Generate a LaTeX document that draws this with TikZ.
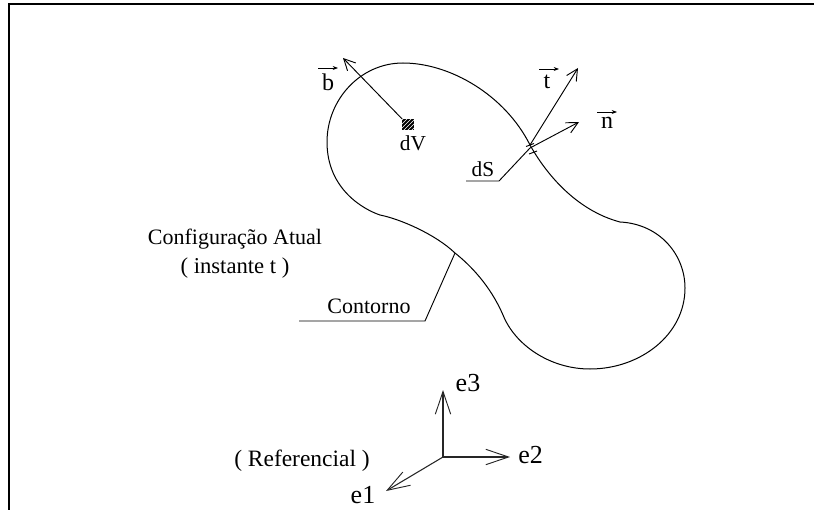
\documentclass[tikz,border=0pt]{standalone}
\usepackage{fontspec}
\setmainfont{Liberation Serif}
\usetikzlibrary{arrows.meta,patterns}
\tikzset{
  lbl/.style={anchor=base,inner sep=0pt,font=\fontsize{16.5}{18}\selectfont},
  biglbl/.style={anchor=base,inner sep=0pt,font=\fontsize{19.5}{22}\selectfont},
  veclbl/.style={anchor=base,inner sep=0pt,font=\fontsize{18}{20}\selectfont},
  smalllbl/.style={anchor=base,inner sep=0pt,font=\fontsize{16}{18}\selectfont},
  thin line/.style={line width=0.7pt,black},
  vec/.style={thin line,-{Straight Barb[length=8.5pt,width=8.5pt,line width=0.7pt]}},
  axis/.style={line width=0.8pt,black!85,-{Straight Barb[length=17pt,width=11.5pt,line width=0.7pt]}},
  over/.style={line width=0.6pt,black,-{Stealth[length=4pt,width=3pt]}},
  curve/.style={line width=0.75pt,black}
}
\begin{document}
\begin{tikzpicture}[x=0.75pt,y=-0.75pt]
\useasboundingbox (0,0) rectangle (814,510);
% frame (open on the right and at the bottom)
\coordinate (fa) at (9,510);
\coordinate (fb) at (9,4.4);
\coordinate (fc) at (814,4.4);
\draw[line width=1.5pt,miter limit=10] (fa) -- (fb) -- (fc);
% body contour
\draw[curve] (403,63)
  .. controls (450,63) and (505,95) .. (530,145)
  .. controls (545,172) and (575,210) .. (620,222)
  .. controls (660,224) and (685,255) .. (685,288)
  .. controls (685,335) and (640,369) .. (590,369)
  .. controls (550,369) and (515,345) .. (503,315)
  .. controls (490,285) and (470,265) .. (455,253)
  .. controls (435,234) and (400,219) .. (380,215)
  .. controls (365,210) and (327,190) .. (327,142)
  .. controls (327,100) and (360,63) .. (403,63) -- cycle;
% dV element
\node[draw=black,line width=0.4pt,fill=black,minimum width=8.3pt,minimum height=7.8pt,inner sep=0pt] (dv) at (408,124.5) {};
\fill[pattern=north east lines,pattern color=white] (dv.south west) rectangle (dv.north east);
\coordinate (bt) at (343,58);
\draw[vec] (dv.north west) -- (bt);
% surface vectors
\coordinate (tb) at (530,145);
\coordinate (tt) at (578,68);
\coordinate (nb) at (530,148);
\coordinate (nt) at (579,122);
\draw[vec] (tb) -- (tt);
\draw[vec] (nb) -- (nt);
% dS ticks
\coordinate (ta1) at (526,146.5);
\coordinate (ta2) at (534,143.5);
\coordinate (tb1) at (529,154);
\coordinate (tb2) at (537,151);
\draw[thin line] (ta1) -- (ta2);
\draw[thin line] (tb1) -- (tb2);
% dS leader
\coordinate (s1) at (466,181);
\coordinate (s2) at (499,181);
\coordinate (s3) at (530,148);
\draw[thin line] (s1) -- (s2) -- (s3);
% Contorno leader
\coordinate (c1) at (299,321);
\coordinate (c2) at (425,321);
\coordinate (c3) at (455,253);
\draw[thin line] (c1) -- (c2) -- (c3);
% axes
\coordinate (o) at (443,457);
\coordinate (e3t) at (443,390);
\coordinate (e2t) at (510,457);
\coordinate (e1t) at (386,491);
\draw[axis] (o) -- (e3t);
\draw[axis] (o) -- (e2t);
\draw[axis] (o) -- (e1t);
% vector letters
\node[veclbl] (lb) at (328,91) {b};
\node[veclbl] (lt) at (547,89) {t};
\node[veclbl] (ln) at (607,128) {n};
\coordinate (ob1) at (318,68); \coordinate (ob2) at (338,68);
\coordinate (ot1) at (539,69); \coordinate (ot2) at (559,69);
\coordinate (on1) at (597,112); \coordinate (on2) at (617,112);
\draw[over] (ob1) -- (ob2);
\draw[over] (ot1) -- (ot2);
\draw[over] (on1) -- (on2);
% labels
\node[smalllbl] (dVl) at (413,151) {dV};
\node[smalllbl] (dSl) at (483,176) {dS};
\node[lbl] (cfg) at (235,244) {Configuração Atual};
\node[lbl,font=\fontsize{17}{18}\selectfont] (ins) at (235,273) {( instante t )};
\node[lbl] (cont) at (369,313) {Contorno};
\node[lbl,font=\fontsize{17.6}{18}\selectfont] (ref) at (302,466) {( Referencial )};
\node[biglbl] (e3) at (468,391) {e3};
\node[biglbl,anchor=base west] (e2) at (518,463) {e2};
\node[biglbl] (e1) at (363,503) {e1};
\end{tikzpicture}
\end{document}
